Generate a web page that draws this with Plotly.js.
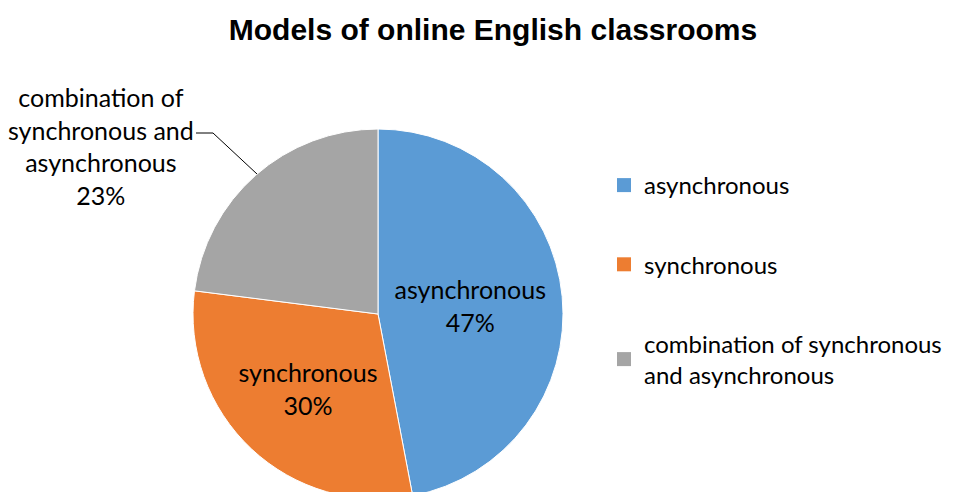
<!DOCTYPE html>
<html><head><meta charset="utf-8">
<script src="https://cdn.plot.ly/plotly-3.0.1.min.js"></script>
<style>html,body{margin:0;padding:0;overflow:hidden;background:#fff}#c{width:955px;height:510px}</style>
</head><body><div id="c"></div>
<script>
const categories = ['asynchronous', 'synchronous', 'combination of synchronous and asynchronous'];
const shares = [47, 30, 23];
const colors = ['#5B9BD5', '#ED7D31', '#A5A5A5'];
const legendNames = ['asynchronous', 'synchronous', 'combination of synchronous<br>and asynchronous'];
const outsideLabel = 'combination of<br>synchronous and<br>asynchronous';
const titleText = 'Models of online English classrooms';

const W = 955, H = 510;
const px = x => x / W, py = y => (H - y) / H;
const FONT = 'Lato, "Open Sans", sans-serif';
const FS = 25;

const pie = {
  type: 'pie', labels: categories, values: shares, sort: false,
  direction: 'clockwise', rotation: 0,
  marker: {colors: colors, line: {color: '#ffffff', width: 1}},
  texttemplate: '%{label}<br>%{percent:.0%}',
  textposition: ['inside', 'inside', 'none'],
  insidetextorientation: 'horizontal',
  insidetextfont: {family: FONT, size: FS, color: '#000'},
  domain: {x: [px(193), px(563)], y: [py(499), py(129)]},
  showlegend: false, hoverinfo: 'label+percent'
};

const legendTraces = categories.map((c, i) => ({
  type: 'scatter', mode: 'markers', x: [null], y: [null], name: legendNames[i],
  legendgroup: 'g' + i,
  marker: {symbol: 'square', size: 14, color: colors[i]}, hoverinfo: 'skip'
}));

const total = shares.reduce((a, b) => a + b, 0);
const layout = {
  width: W, height: H, margin: {l: 0, r: 0, t: 0, b: 0, autoexpand: false},
  paper_bgcolor: '#fff', plot_bgcolor: '#fff',
  font: {family: FONT, size: FS, color: '#000'},
  title: {text: '<b>' + titleText + '</b>', x: px(493), xanchor: 'center', y: py(29), yanchor: 'middle',
          xref: 'paper', yref: 'paper', automargin: false,
          font: {family: 'Liberation Sans, Arial, sans-serif', size: 30, color: '#000'}},
  xaxis: {visible: false}, yaxis: {visible: false},
  showlegend: true,
  legend: {x: px(604), y: py(163), xanchor: 'left', yanchor: 'top', tracegroupgap: 45,
           font: {family: FONT, size: 24, color: '#000'}, itemsizing: 'trace', bgcolor: 'rgba(0,0,0,0)'},
  annotations: [{
    text: outsideLabel + '<br>' + Math.round(shares[2] / total * 100) + '%',
    x: px(101), y: py(146), xref: 'paper', yref: 'paper', xanchor: 'center', yanchor: 'middle',
    showarrow: false, align: 'center', font: {family: FONT, size: FS, color: '#000'}
  }],
  shapes: [{
    type: 'path', xref: 'paper', yref: 'paper',
    path: `M ${px(196)} ${py(133)} L ${px(213)} ${py(133)} L ${px(257)} ${py(174)}`,
    line: {color: '#000', width: 1}
  }]
};

Plotly.newPlot('c', [pie].concat(legendTraces), layout, {displayModeBar: false, staticPlot: true});
</script></body></html>
